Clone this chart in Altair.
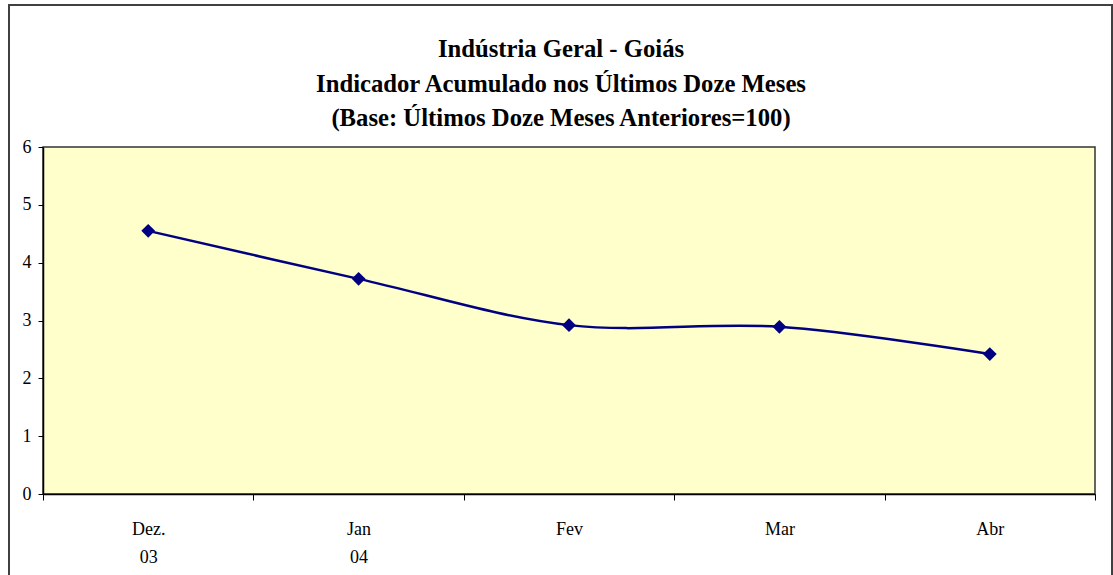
import altair as alt
import pandas as pd

months = ["Dez. 03", "Jan 04", "Fev", "Mar", "Abr"]
values = [4.55, 3.72, 2.92, 2.89, 2.42]
title_lines = [
    "Indústria Geral - Goiás",
    "Indicador Acumulado nos Últimos Doze Meses",
    "(Base: Últimos Doze Meses Anteriores=100)",
]

df = pd.DataFrame({"mes": months, "valor": values})

FONT = "Liberation Serif"
NAVY = "#000080"

x_enc = alt.X(
    "mes:N",
    sort=months,
    title=None,
    scale=alt.Scale(paddingInner=0, paddingOuter=0),
    axis=alt.Axis(
        labelAngle=0,
        labelExpr="split(datum.label, ' ')",
        labelLineHeight=28,
        labelFont=FONT,
        labelFontSize=18,
        labelColor="#000000",
        labelPadding=20,
        tickBand="extent",
        tickSize=6,
        tickColor="#000000",
        domainColor="#000000",
        domainWidth=1.5,
        grid=False,
    ),
)
y_enc = alt.Y(
    "valor:Q",
    title=None,
    scale=alt.Scale(domain=[0, 6], nice=False),
    axis=alt.Axis(
        values=[0, 1, 2, 3, 4, 5, 6],
        labelFont=FONT,
        labelFontSize=18,
        labelColor="#000000",
        labelPadding=7,
        tickSize=5,
        tickColor="#000000",
        domainColor="#000000",
        domainWidth=1.5,
        grid=False,
    ),
)

frame = alt.Chart(pd.DataFrame({"a": [0]})).mark_rect(
    fill=None, stroke="#404040", strokeWidth=2
).encode(
    x=alt.value(-34), x2=alt.value(1069), y=alt.value(-142), y2=alt.value(440)
)

title = alt.Chart(pd.DataFrame({"t": ["\n".join(title_lines)]})).mark_text(
    font=FONT,
    fontSize=24.7,
    fontWeight="bold",
    color="#000000",
    lineBreak="\n",
    lineHeight=34.5,
    align="center",
    baseline="alphabetic",
).encode(text="t:N", x=alt.value(518), y=alt.value(-90))

line = alt.Chart(df).mark_line(
    color=NAVY, strokeWidth=2.5, interpolate="cardinal"
).encode(x=x_enc, y=y_enc)

points = alt.Chart(df).mark_point(
    shape="diamond", filled=True, size=190, color=NAVY, opacity=1
).encode(x=x_enc, y=y_enc)

chart = (
    alt.layer(frame, title, line, points)
    .properties(
        width=1052,
        height=347,
        autosize=alt.AutoSizeParams(type="none"),
        padding={"left": 43, "top": 147, "right": 18, "bottom": 81},
        background="#ffffff",
    )
    .configure_view(fill="#FFFFCC", stroke="#333333", strokeWidth=1.5)
)

chart.save("out.html", embed_options={"renderer": "svg", "actions": False})
